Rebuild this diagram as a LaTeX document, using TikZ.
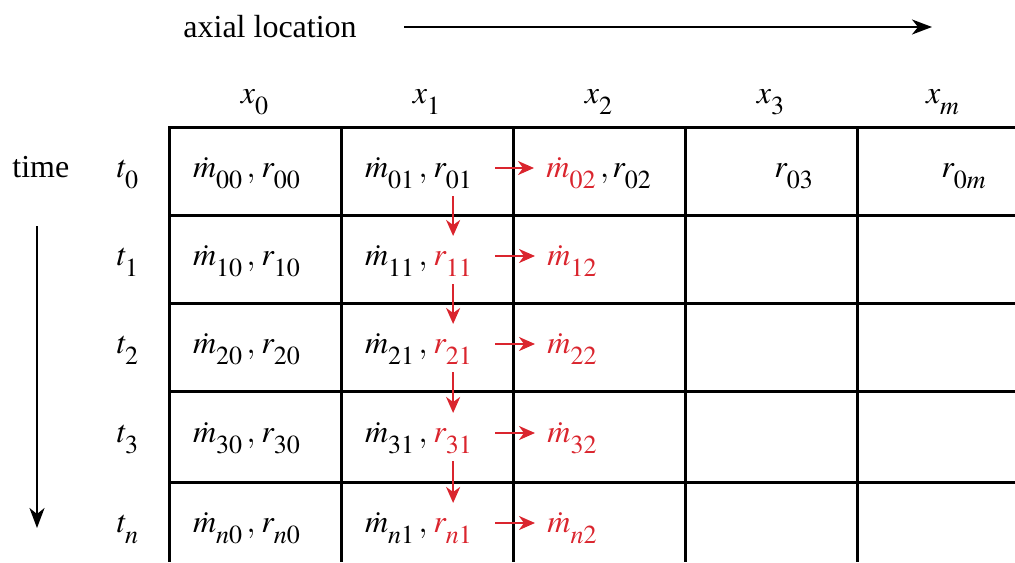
\documentclass[tikz,border=0pt]{standalone}
\usepackage{mathptmx}
\usepackage{fontspec}
\setmainfont{Liberation Serif}
\usetikzlibrary{arrows.meta,positioning,calc}
\definecolor{flowred}{RGB}{218,37,46}
\DeclareMathSizes{16}{16}{13}{9}
\newcommand{\lo}[1]{_{\raisebox{-3.5pt}{$\scriptstyle #1$}}}

\begin{document}
\begin{tikzpicture}[x=0.5pt,y=-0.5pt,
    grid line/.style={line width=1.5pt},
    axis/.style={line width=1.1pt,-{Stealth[length=10pt,width=7.5pt,inset=3pt]}},
    flow/.style={flowred,line width=1.2pt,-{Stealth[length=8pt,width=7pt,inset=2.5pt]}},
    entry/.style={inner sep=0pt,font=\fontsize{16}{18}\selectfont}]
    \useasboundingbox (0,0) rectangle (1015,562);

    % Axis labels and arrows
    \node[entry,anchor=base west] (axial) at (183,37) {axial location};
    \coordinate (axstart) at (404,27);
    \coordinate (axend) at (932,27);
    \draw[axis] (axstart) -- (axend);
    \node[entry,anchor=base west] (time) at (12,177) {time};
    \coordinate (tstart) at (37,226);
    \coordinate (tend) at (37,528);
    \draw[axis] (tstart) -- (tend);

    % Grid
    \foreach \y in {127,215,303,391,482}
      \draw[grid line] (168.25,\y) -- (1015,\y);
    \foreach \x in {169,341,513,685,857}
      \draw[grid line] (\x,127) -- (\x,562);

    % Column and row headers
    \foreach \x/\c in {255/0,427/1,599/2,771/3,943/m}
      \node[entry,anchor=base] (x\c) at (\x,103) {$x\lo{\c}$};
    \foreach \y/\r in {177/0,265/1,353/2,442/3,532/n}
      \node[entry,anchor=base] (t\r) at (128,\y) {$t\lo{\r}$};

    % Columns x_0 and x_1
    \foreach \y/\r/\col in {177/0/black,265/1/flowred,353/2/flowred,442/3/flowred,532/n/flowred}{
      \node[entry,anchor=base east] (m\r0) at (256,\y) {$\dot m\lo{\r0}\,,$};
      \node[entry,anchor=base west] (r\r0) at (261,\y) {$r\lo{\r0}$};
      \node[entry,anchor=base east] (m\r1) at (428,\y) {$\dot m\lo{\r1}\,,$};
      \node[entry,anchor=base west,text=\col] (r\r1) at (433,\y) {$r\lo{\r1}$};
    }

    % Column x_2
    \node[entry,anchor=base west,text=flowred] (m02) at (546,177)
      {$\dot m\lo{02}\,{\color{black},}$};
    \node[entry,anchor=base west] (r02) at (612,177) {$r\lo{02}$};
    \foreach \y/\r in {265/1,353/2,442/3,532/n}
      \node[entry,anchor=base west,text=flowred] (m\r2) at (547,\y) {$\dot m\lo{\r2}$};

    % Columns x_3 and x_m
    \node[entry,anchor=base west] (r03) at (774,177) {$r\lo{03}$};
    \node[entry,anchor=base west] (r0m) at (941,177) {$r\lo{0m}$};

    % Update arrows
    \foreach \r/\s in {0/1,1/2,2/3,3/n}
      \draw[flow] ([yshift=-9.5pt]r\r1.base) -- ([yshift=14.5pt]r\s1.base);
    \foreach \r in {0,1,2,3,n}
      \draw[flow] ([xshift=11pt,yshift=4.5pt]r\r1.base east) -- ([xshift=-6pt,yshift=4.5pt]m\r2.base west);
  \end{tikzpicture}
\end{document}
